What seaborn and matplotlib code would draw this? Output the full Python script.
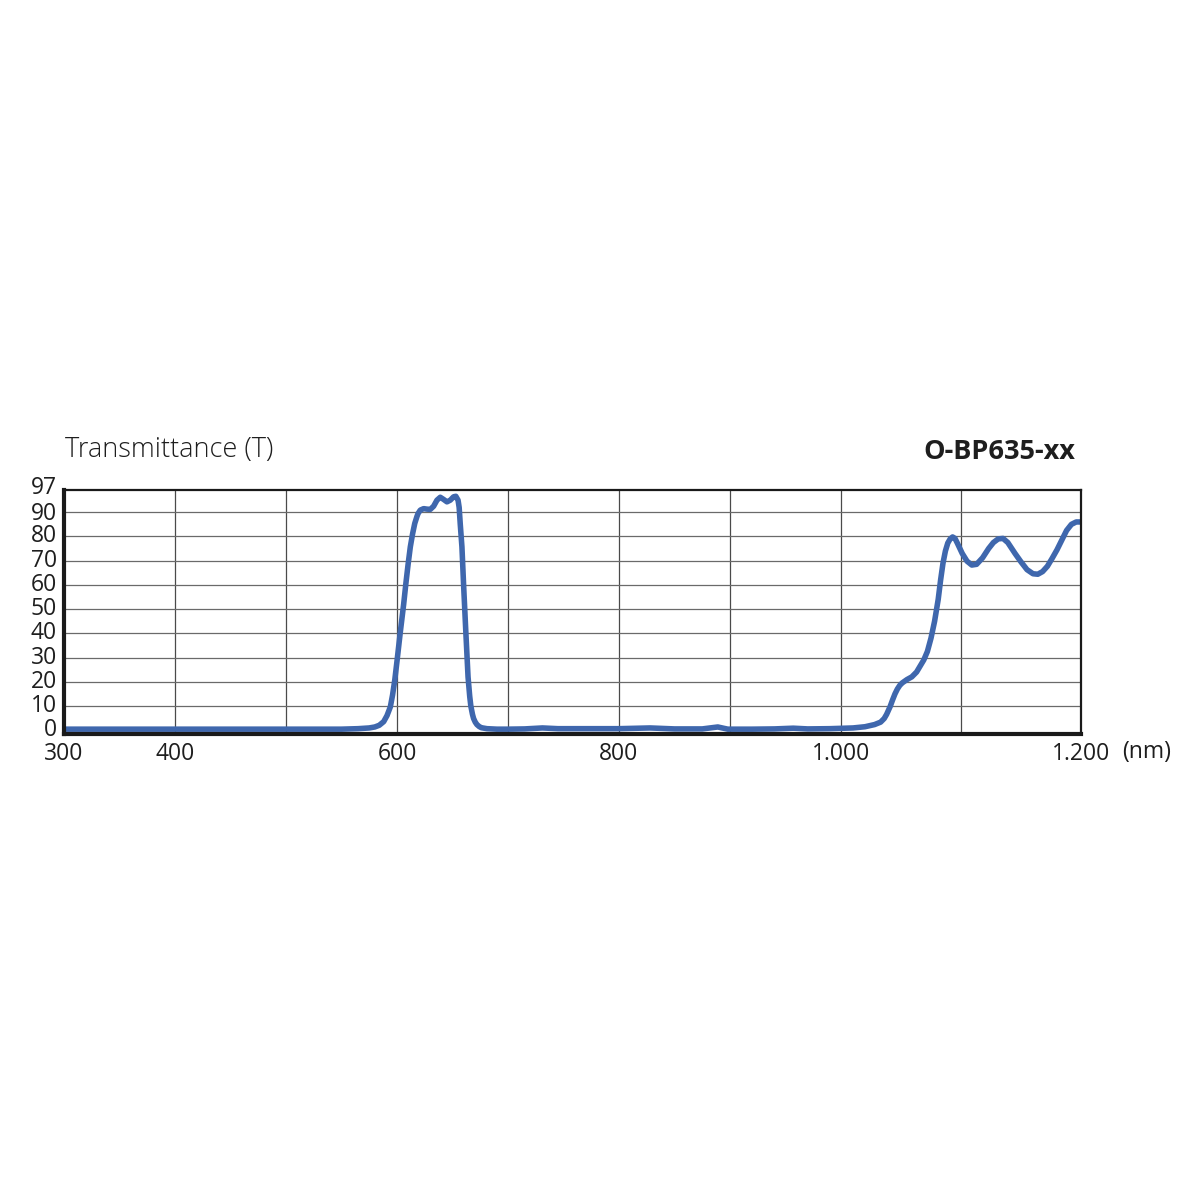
import numpy as np
import pandas as pd
import matplotlib
matplotlib.use("Agg")
import matplotlib.pyplot as plt
import matplotlib.transforms as mtransforms
import seaborn as sns

# ---- data ----
wavelength = [300, 350, 400, 450, 500, 550, 565, 575, 580, 584, 588, 591, 594, 596, 598, 600,
              603, 606, 608, 610, 612, 614, 616, 618, 619, 621, 624, 627, 630, 633, 636, 639,
              642, 645, 648, 651, 653, 655, 656, 657, 658.5, 660, 662, 664, 665.5, 666.5, 668,
              669, 670.5, 672, 674, 676, 681, 690, 700, 715, 731, 745, 770, 800, 828, 850, 875,
              889, 898, 920, 940, 957, 970, 990, 1010, 1020, 1028, 1033, 1036, 1038, 1041, 1043,
              1045, 1047, 1049, 1051, 1055, 1059, 1063, 1066, 1069, 1072, 1075, 1078, 1081, 1083,
              1085, 1087, 1089, 1091, 1093, 1095, 1097, 1101, 1105, 1109, 1113, 1118, 1123, 1127,
              1131, 1135, 1139, 1145, 1150, 1155, 1160, 1164, 1168, 1172, 1176, 1180, 1184, 1188,
              1192, 1196, 1200]
transmittance = [0.4, 0.4, 0.4, 0.4, 0.4, 0.4, 0.6, 0.9, 1.3, 2.0, 3.5, 6.0, 9.6, 14.5, 20.7, 28.5,
                 40.6, 52.0, 60.6, 68.5, 75.7, 81.0, 85.4, 88.3, 89.5, 90.9, 91.5, 91.3, 91.2, 92.5, 95.0, 96.2,
                 95.3, 94.3, 95.0, 96.4, 96.6, 95.0, 92.0, 85.0, 75.7, 60.0, 40.6, 22.0, 14.0, 10.0, 6.5,
                 4.8, 3.3, 2.3, 1.5, 1.0, 0.6, 0.4, 0.4, 0.5, 0.9, 0.6, 0.6, 0.6, 0.9, 0.5, 0.5,
                 1.3, 0.4, 0.4, 0.5, 0.8, 0.5, 0.6, 0.9, 1.4, 2.3, 3.3, 4.8, 6.5, 9.8, 12.5,
                 15.0, 17.0, 18.5, 19.5, 20.9, 22.0, 24.0, 26.5, 29.0, 32.5, 38.0, 45.0, 54.0, 62.0,
                 69.0, 74.0, 77.3, 79.0, 79.8, 79.2, 77.2, 73.0, 69.8, 68.2, 68.5, 71.2, 75.0, 77.5,
                 79.0, 79.2, 77.5, 73.0, 69.5, 66.3, 64.6, 64.4, 65.5, 67.7, 71.0, 74.5, 78.5, 82.5,
                 85.0, 86.0, 86.0]

x_ticks = [300, 400, 500, 600, 700, 800, 900, 1000, 1100, 1200]
x_tick_labels = ["300", "400", "", "600", "", "800", "", "1.000", "", "1.200"]
y_ticks = [0, 10, 20, 30, 40, 50, 60, 70, 80, 90, 97]
y_tick_labels = ["0", "10", "20", "30", "40", "50", "60", "70", "80", "90", "97"]
y_grid = [10, 20, 30, 40, 50, 60, 70, 80, 90]

title_left = "Transmittance (T)"
title_right = "O-BP635-xx"
unit_label = "(nm)"

df = pd.DataFrame({"wavelength": wavelength, "T": transmittance})

# ---- style ----
sns.set_theme(style="white")
plt.rcParams["font.family"] = ["Open Sans", "DejaVu Sans"]

TXT = "#1e1e1e"
BLUE = "#3f67ad"

fig = plt.figure(figsize=(12, 12), dpi=100)
ax = fig.add_axes([64 / 1200, 1 - 734 / 1200, (1081 - 64) / 1200, (734 - 490) / 1200])

# the reference x axis is not perfectly uniform (last two intervals are wider)
_nm = [300, 1000, 1200]
_px = [0, 777, 1017]
def fwd(v):
    return np.interp(v, _nm, _px)
def inv(v):
    return np.interp(v, _px, _nm)
ax.set_xscale("function", functions=(fwd, inv))

sns.lineplot(data=df, x="wavelength", y="T", ax=ax, color=BLUE, linewidth=4.0,
             solid_joinstyle="round", solid_capstyle="round", zorder=3)

ax.set_xlim(300, 1200)
ax.set_ylim(-1.6, 99.2)

for xv in x_ticks[1:-1]:
    ax.axvline(xv, color="#4a4a4a", lw=0.9, zorder=1)
for yv in y_grid:
    ax.axhline(yv, color="#6a6a6a", lw=0.9, zorder=1)

ax.set_xticks(x_ticks)
ax.set_xticklabels(x_tick_labels)
ax.set_yticks(y_ticks)
ax.set_yticklabels(y_tick_labels)
ax.tick_params(axis="both", length=0, labelsize=16.5, colors=TXT)
ax.tick_params(axis="x", pad=6)
ax.tick_params(axis="y", pad=5)
ylabels = ax.get_yticklabels()
for lbl in ylabels:
    lbl.set_verticalalignment("center")
# top "97" label sits slightly higher, as in the reference
top_lbl = ylabels[-1]
top_lbl.set_transform(top_lbl.get_transform() +
                      mtransforms.ScaledTranslation(0, 5 / 72, fig.dpi_scale_trans))
ylabels[-2].set_transform(ylabels[-2].get_transform() +
                          mtransforms.ScaledTranslation(0, -1 / 72, fig.dpi_scale_trans))

ax.set_xlabel("")
ax.set_ylabel("")

for side in ["left", "bottom"]:
    ax.spines[side].set_linewidth(3.0)
    ax.spines[side].set_color("#1a1a1a")
for side in ["top", "right"]:
    ax.spines[side].set_linewidth(1.6)
    ax.spines[side].set_color("#1a1a1a")
for s in ax.spines.values():
    s.set_visible(True)
    s.set_zorder(4)

fig.text(65 / 1200, 1 - 450 / 1200, title_left, fontsize=19.5, fontweight="light",
         color=TXT, ha="left", va="center")
fig.text(1075 / 1200, 1 - 452 / 1200, title_right, fontsize=19.5, fontweight="bold",
         color=TXT, ha="right", va="center")
fig.text(1122 / 1200, 1 - 752 / 1200, unit_label, fontsize=16.5,
         color=TXT, ha="left", va="center")

fig.savefig("out.png", dpi=100, facecolor="white")
